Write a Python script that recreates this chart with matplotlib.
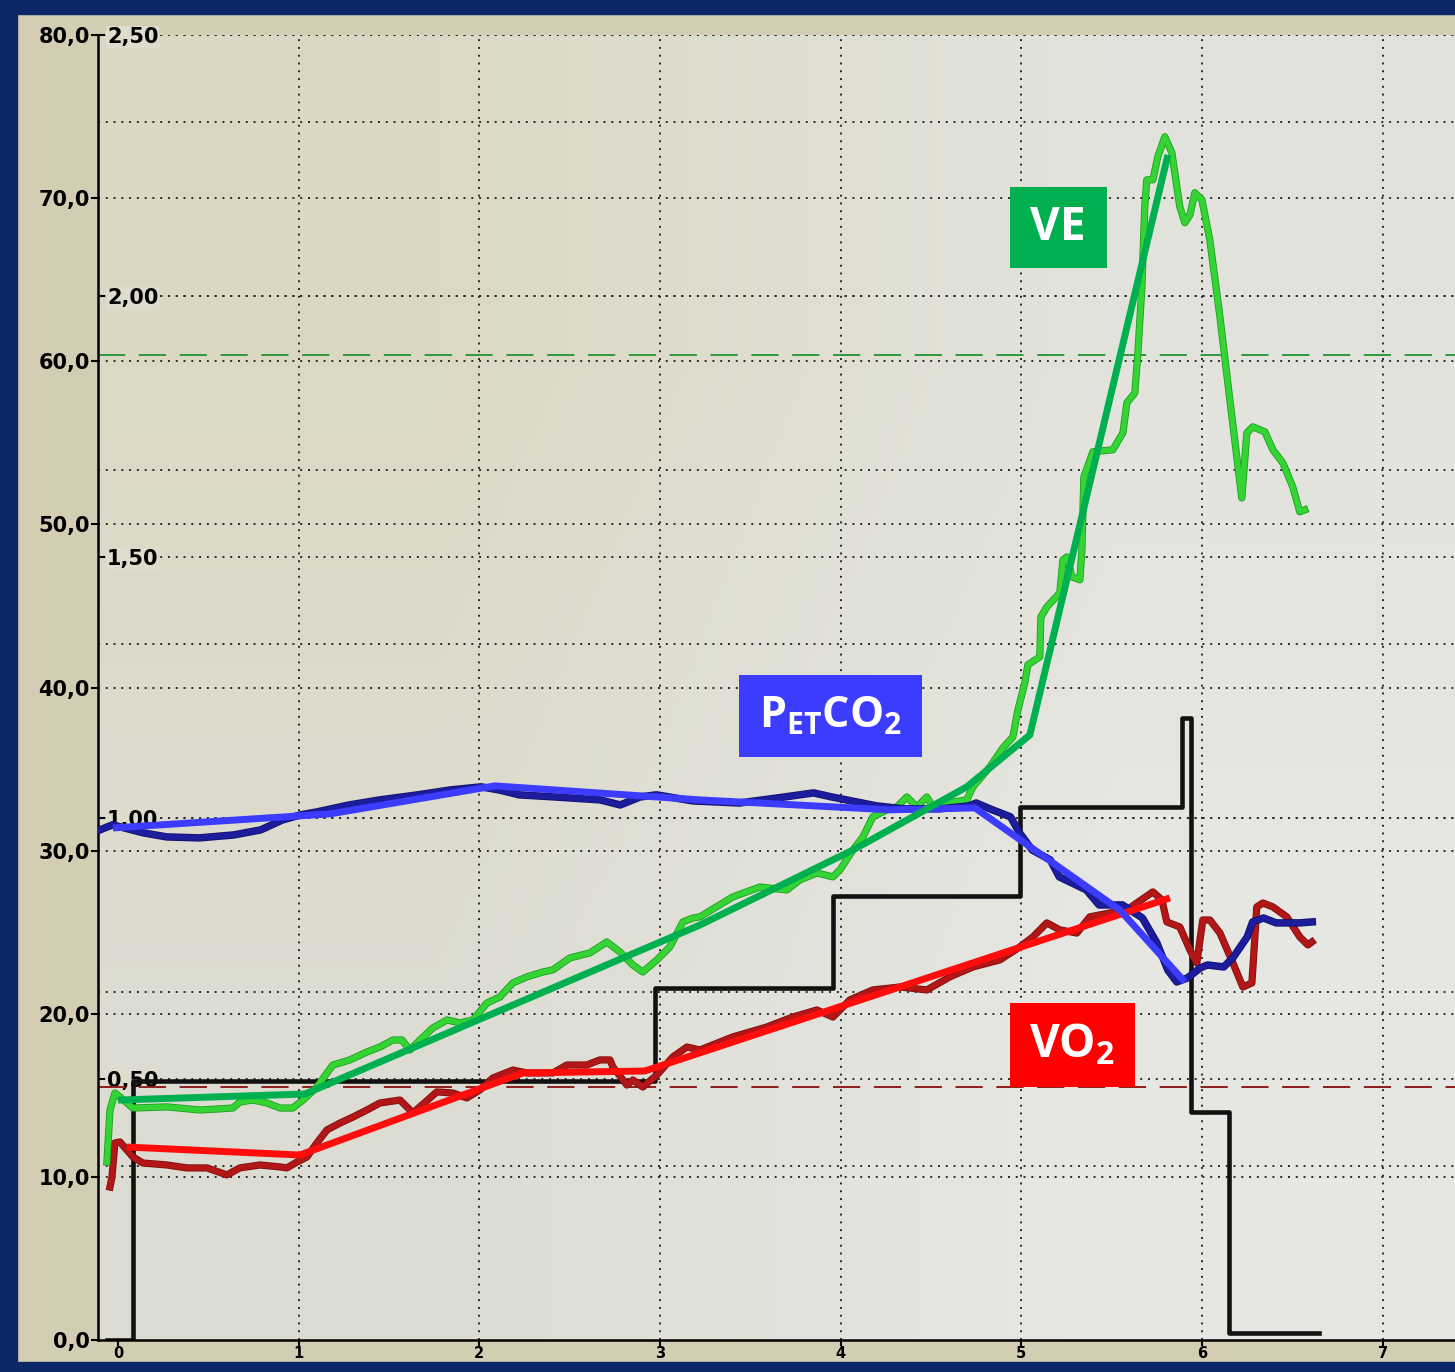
import matplotlib.pyplot as plt
import matplotlib.patheffects as pe
from matplotlib.patches import Rectangle
import numpy as np

plt.rcParams['mathtext.fontset'] = 'custom'
plt.rcParams['mathtext.rm'] = 'Open Sans'
plt.rcParams['mathtext.bf'] = 'Open Sans:bold'

# VE bruta (L/min) frente al tiempo (min)
t_ve = [-0.061, -0.044, -0.017, 0.011, 0.083, 0.271, 0.454, 0.636, 0.675, 0.747, 0.825, 0.897,
        0.968, 1.024, 1.101, 1.157, 1.190, 1.284, 1.378, 1.450, 1.522, 1.572, 1.616, 1.671,
        1.743, 1.821, 1.893, 1.965, 2.042, 2.114, 2.186, 2.263, 2.352, 2.407, 2.501, 2.612,
        2.706, 2.778, 2.850, 2.905, 2.983, 3.055, 3.127, 3.182, 3.221, 3.403, 3.553, 3.702,
        3.774, 3.868, 3.957, 3.996, 4.068, 4.123, 4.178, 4.256, 4.311, 4.366, 4.422, 4.477,
        4.510, 4.588, 4.698, 4.732, 4.826, 4.898, 4.953, 4.981, 5.019, 5.036, 5.102, 5.108,
        5.141, 5.213, 5.230, 5.252, 5.280, 5.324, 5.335, 5.340, 5.346, 5.396, 5.506, 5.562,
        5.584, 5.628, 5.645, 5.667, 5.683, 5.694, 5.728, 5.755, 5.794, 5.833, 5.877, 5.905,
        5.933, 5.960, 5.999, 6.043, 6.099, 6.154, 6.220, 6.248, 6.281, 6.348, 6.392, 6.447,
        6.502, 6.541, 6.569]
ve = [10.91, 14.10, 15.14, 14.90, 14.22, 14.29, 14.10, 14.22, 14.59, 14.71, 14.53, 14.22,
      14.22, 14.71, 15.51, 16.37, 16.86, 17.17, 17.66, 17.96, 18.39, 18.39, 17.78, 18.39,
      19.13, 19.62, 19.44, 19.62, 20.66, 21.03, 21.89, 22.26, 22.56, 22.69, 23.42, 23.73,
      24.40, 23.79, 22.99, 22.56, 23.30, 24.10, 25.63, 25.87, 25.94, 27.16, 27.77, 27.59,
      28.20, 28.63, 28.39, 28.82, 30.04, 30.84, 32.07, 32.50, 32.68, 33.29, 32.68, 33.29,
      32.68, 32.92, 33.11, 33.91, 35.13, 36.30, 36.97, 38.63, 40.28, 41.39, 41.88, 44.33,
      44.94, 45.80, 47.82, 48.01, 46.78, 46.60, 48.44, 50.46, 52.91, 54.45, 54.57, 55.61,
      57.45, 58.06, 60.51, 64.56, 69.47, 71.12, 71.12, 72.53, 73.76, 72.78, 69.47, 68.49,
      68.98, 70.33, 69.90, 67.44, 62.72, 57.63, 51.62, 55.61, 55.98, 55.67, 54.57, 53.77,
      52.30, 50.77, 50.89]

# VO2 bruto
t_vo2 = [-0.044, -0.033, -0.017, 0.011, 0.083, 0.138, 0.271, 0.382, 0.493, 0.603, 0.675, 0.786,
         0.896, 0.935, 0.991, 1.046, 1.101, 1.157, 1.229, 1.301, 1.378, 1.450, 1.561, 1.633,
         1.765, 1.854, 1.931, 2.003, 2.075, 2.186, 2.263, 2.407, 2.485, 2.595, 2.667, 2.723,
         2.739, 2.817, 2.850, 2.905, 2.983, 3.071, 3.149, 3.221, 3.403, 3.592, 3.735, 3.868,
         3.957, 4.051, 4.178, 4.328, 4.477, 4.604, 4.732, 4.881, 4.992, 5.064, 5.141, 5.213,
         5.307, 5.379, 5.490, 5.584, 5.639, 5.728, 5.778, 5.805, 5.877, 5.933, 5.971, 6.004,
         6.043, 6.099, 6.171, 6.226, 6.276, 6.303, 6.337, 6.392, 6.469, 6.541, 6.586, 6.608]
vo2 = [9.38, 9.99, 12.08, 12.14, 11.22, 10.85, 10.73, 10.55, 10.55, 10.12, 10.55, 10.73,
       10.61, 10.55, 10.91, 11.22, 12.08, 12.88, 13.30, 13.67, 14.10, 14.53, 14.71, 13.92,
       15.21, 15.14, 14.84, 15.33, 16.06, 16.55, 16.37, 16.37, 16.86, 16.86, 17.17, 17.17,
       16.74, 15.63, 15.94, 15.51, 16.25, 17.35, 17.96, 17.78, 18.58, 19.19, 19.80, 20.23,
       19.80, 20.85, 21.46, 21.64, 21.46, 22.26, 22.87, 23.30, 24.10, 24.71, 25.57, 25.14,
       24.95, 25.94, 26.18, 26.36, 26.79, 27.47, 26.98, 25.63, 25.32, 23.91, 23.11, 25.75,
       25.75, 24.95, 23.11, 21.64, 21.89, 26.55, 26.79, 26.55, 25.94, 24.71, 24.22, 24.40]

# PETCO2 bruto (mmHg)
t_pet = [-0.10, -0.03, 0.14, 0.27, 0.45, 0.64, 0.79, 0.91, 1.01, 1.10, 1.28, 1.45, 1.66,
         1.84, 2.01, 2.11, 2.22, 2.42, 2.67, 2.78, 2.89, 2.98, 3.18, 3.44, 3.69, 3.85, 3.95,
         4.20, 4.35, 4.55, 4.71, 4.75, 4.84, 4.94, 4.99, 5.06, 5.16, 5.21, 5.28, 5.36, 5.43,
         5.56, 5.67, 5.75, 5.81, 5.86, 5.92, 5.99, 6.03, 6.12, 6.17, 6.25, 6.28, 6.34, 6.41,
         6.54, 6.61]
pet = [31.27, 31.58, 31.09, 30.84, 30.78, 30.96, 31.27, 31.88, 32.19, 32.37, 32.80, 33.11,
       33.42, 33.72, 33.91, 33.72, 33.42, 33.29, 33.11, 32.80, 33.29, 33.42, 33.05, 32.92,
       33.29, 33.54, 33.29, 32.74, 32.56, 32.56, 32.74, 32.92, 32.50, 32.07, 31.09, 30.04,
       29.43, 28.39, 28.02, 27.59, 26.67, 26.67, 25.87, 24.34, 22.69, 21.95, 22.20, 22.81,
       22.99, 22.87, 23.42, 24.71, 25.63, 25.87, 25.57, 25.57, 25.63]

# Ajustes por tramos
fit_ve_t = [0.0, 1.035, 3.221, 4.068, 4.698, 5.047, 5.811]
fit_ve = [14.71, 15.08, 25.44, 30.04, 33.91, 37.09, 72.65]
fit_vo2_t = [0.05, 1.007, 2.241, 2.916, 5.822]
fit_vo2 = [11.83, 11.34, 16.37, 16.49, 27.10]
fit_pet_t = [-0.028, 1.173, 2.086, 3.221, 4.272, 4.743, 5.545, 5.905]
fit_pet = [31.39, 32.25, 33.97, 33.11, 32.50, 32.62, 26.36, 21.95]

# Carga (escalones)
carga_t = [-0.06, 0.083, 2.97, 3.96, 4.99, 5.89, 5.94, 6.15, 6.65]
carga = [0, 15.9, 21.6, 27.2, 32.7, 38.1, 14.0, 0.4, 0.4]

# Ejes
ticks_izq = [0, 10, 20, 30, 40, 50, 60, 70, 80]
etiq_izq = ['0,0', '10,0', '20,0', '30,0', '40,0', '50,0', '60,0', '70,0', '80,0']
ticks_der = [0.5, 1.0, 1.5, 2.0, 2.5]
etiq_der = ['0,50', '1,00', '1,50', '2,00', '2,50']
ticks_x = [0, 1, 2, 3, 4, 5, 6, 7]
ticks_tercer_eje = [50, 100, 150, 200, 250, 300, 350]
max_tercer_eje = 375
umbral_ve = 60.4
umbral_vo2 = 15.5

fig = plt.figure(figsize=(14.55, 13.72), dpi=100, facecolor='#d3ceb3')
ax = fig.add_axes([0.0674, 0.02332, 0.9326, 0.95117])
ax2 = ax.twinx()
ax.set_zorder(2)
ax.patch.set_visible(False)
ax2.set_zorder(1)

# fondo y rejilla en el eje secundario (debajo)
bg = np.array([[[0.862, 0.847, 0.765], [0.890, 0.890, 0.865]],
               [[0.868, 0.864, 0.826], [0.905, 0.905, 0.893]]])
ax2.imshow(bg, extent=[0, 1, 0, 1], transform=ax2.transAxes, aspect='auto',
           interpolation='bilinear', zorder=0)

grid_kw = dict(color='#2a2a2a', lw=1.4, ls=(0, (1, 3)), zorder=1)
for y in ticks_izq[1:]:
    ax2.axhline(y * 2.5 / 80, **grid_kw)
for v in ticks_der:
    ax2.axhline(v, **grid_kw)
for w in ticks_tercer_eje:
    ax2.axhline(w * 2.5 / max_tercer_eje, **grid_kw)
for x in ticks_x[1:]:
    ax2.axvline(x, **grid_kw)

ax.axhline(umbral_ve, color='#2e9a3a', lw=1.4, ls=(0, (14, 7)), zorder=1.5)
ax.axhline(umbral_vo2, color='#8e1c1c', lw=1.4, ls=(0, (14, 7)), zorder=1.5)

ax.step(carga_t, carga, where='post', color='#111111', lw=3.3, zorder=2)

ax.plot(t_vo2, vo2, color='#b31616', lw=4,
        path_effects=[pe.Stroke(linewidth=5.2, foreground='#7d0e0e'), pe.Normal()], zorder=3)
ax.plot(t_ve, ve, color='#35d435', lw=4,
        path_effects=[pe.Stroke(linewidth=5.2, foreground='#1d9e1d'), pe.Normal()], zorder=3.5)
ax.plot(t_pet, pet, color='#1c1c9c', lw=4.2,
        path_effects=[pe.Stroke(linewidth=5.4, foreground='#10106e'), pe.Normal()], zorder=4)

ax.plot(fit_vo2_t, fit_vo2, color='#ff0d0d', lw=5, solid_capstyle='butt', zorder=5)
ax.plot(fit_pet_t, fit_pet, color='#3c3cff', lw=5, solid_capstyle='butt', zorder=6)
ax.plot(fit_ve_t, fit_ve, color='#00b050', lw=5, solid_capstyle='butt', zorder=7)

# Etiquetas
def etiqueta(x0, x1, y0, y1, color, texto, size):
    ax.add_patch(Rectangle((x0, y0), x1 - x0, y1 - y0, facecolor=color, edgecolor='none', zorder=8))
    ax.text((x0 + x1) / 2, (y0 + y1) / 2, texto, color='white', fontsize=size,
            fontfamily='Open Sans', fontweight='bold', ha='center', va='center', zorder=9)

etiqueta(4.936, 5.473, 65.73, 70.69, '#00b050', 'VE', 33)
etiqueta(3.437, 4.449, 35.75, 40.77, '#3c3cff', r'$\mathbf{P_{ET}CO_{2}}$', 31)
etiqueta(4.936, 5.628, 15.51, 20.66, '#ff0000', r'$\mathbf{VO_{2}}$', 33)

ax.set_xlim(-0.11, 7.40)
ax.set_ylim(0, 80)
ax.set_yticks(ticks_izq, etiq_izq)
ax.set_xticks(ticks_x, [str(x) for x in ticks_x])
ax.tick_params(axis='y', direction='out', length=5, width=1.5, pad=1, labelsize=15)
ax.tick_params(axis='x', direction='out', length=4, width=1.5, pad=0.5, labelsize=10.5)
for lbl in ax.get_yticklabels() + ax.get_xticklabels():
    lbl.set_fontweight('bold')
for s in ['top', 'right']:
    ax.spines[s].set_visible(False)
ax.spines['left'].set_linewidth(1.8)
ax.spines['bottom'].set_linewidth(1.8)

ax2.set_ylim(0, 2.5)
ax2.set_yticks(ticks_der, etiq_der)
ax2.yaxis.tick_left()
ax2.tick_params(axis='y', direction='in', length=5, width=1.5, pad=-6.5, labelsize=15)
for lbl in ax2.get_yticklabels():
    lbl.set_fontweight('bold')
    lbl.set_horizontalalignment('left')
    lbl.set_bbox(dict(facecolor='#dedccc', edgecolor='none', pad=0.5))
for s in ax2.spines.values():
    s.set_visible(False)

# Marco del monitor
navy = '#0b2766'
fig.add_artist(Rectangle((0, 0), 1, 10 / 1372, transform=fig.transFigure, color=navy, zorder=50))
fig.add_artist(Rectangle((0, 1 - 14 / 1372), 1, 14 / 1372, transform=fig.transFigure, color=navy, zorder=50))
fig.add_artist(Rectangle((0, 0), 17 / 1455, 1, transform=fig.transFigure, color=navy, zorder=50))

fig.savefig('out.png', dpi=100, facecolor=fig.get_facecolor())
